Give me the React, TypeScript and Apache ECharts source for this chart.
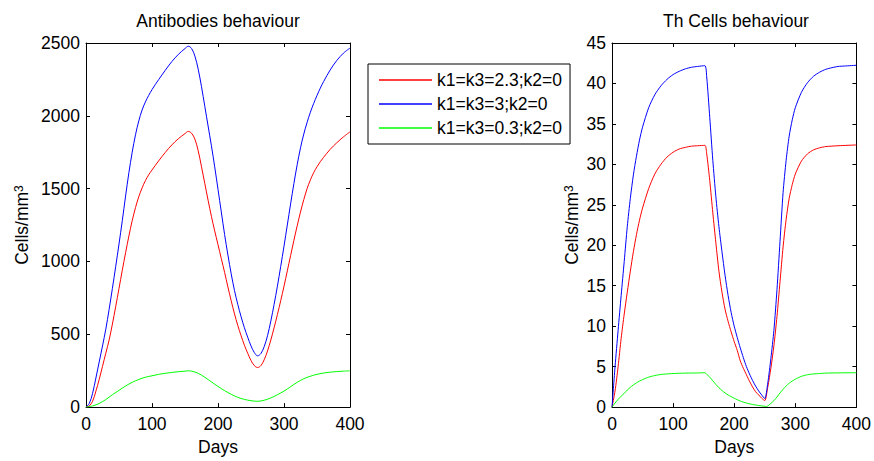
import React, { useEffect, useRef } from "react";
import * as echarts from "echarts";

const FONT = "'Liberation Sans', Arial, Helvetica, sans-serif";
const FS = 17.5;

const seriesNames = ["k1=k3=2.3;k2=0", "k1=k3=3;k2=0", "k1=k3=0.3;k2=0"];
const seriesColors = ["#ff0000", "#0000ff", "#00ff00"];
const titles = ["Antibodies behaviour", "Th Cells behaviour"];
const xTitle = "Days";

// Antibodies (left panel): [day, cells/mm3]
const abRed: [number, number][] = [
  [0, 0], [5, 8], [10, 40], [15, 110], [20, 190], [25, 280], [30, 370], [35, 460], [40, 570], [45, 690],
  [50, 815], [55, 940], [60, 1060], [65, 1175], [70, 1280], [75, 1370], [80, 1445], [85, 1505], [90, 1555],
  [95, 1595], [100, 1628], [110, 1690], [120, 1748], [130, 1800], [140, 1843], [150, 1878], [155, 1893],
  [160, 1880], [165, 1840], [170, 1760], [175, 1650], [180, 1535], [185, 1420], [190, 1310], [195, 1210],
  [200, 1115], [205, 1020], [210, 925], [215, 825], [220, 730], [225, 640], [230, 560], [235, 490], [240, 425],
  [245, 370], [250, 320], [255, 285], [260, 272], [265, 285], [270, 325], [275, 385], [280, 460], [285, 545],
  [290, 635], [295, 730], [300, 830], [305, 935], [310, 1040], [315, 1145], [320, 1245], [325, 1340],
  [330, 1425], [335, 1500], [340, 1560], [345, 1610], [350, 1650], [355, 1685], [360, 1715], [370, 1770],
  [380, 1815], [390, 1855], [400, 1890],
];
const abBlue: [number, number][] = [
  [0, 0], [5, 25], [10, 95], [15, 200], [20, 310], [25, 420], [30, 535], [35, 670], [40, 815], [45, 965],
  [50, 1120], [55, 1280], [60, 1450], [65, 1610], [70, 1750], [75, 1870], [80, 1965], [85, 2040], [90, 2095],
  [95, 2140], [100, 2180], [105, 2215], [110, 2248], [120, 2312], [130, 2372], [140, 2422], [150, 2462],
  [155, 2478], [160, 2462], [165, 2410], [170, 2320], [175, 2200], [180, 2065], [185, 1930], [190, 1795],
  [195, 1650], [200, 1495], [205, 1340], [210, 1185], [215, 1045], [220, 915], [225, 800], [230, 705],
  [235, 620], [240, 545], [245, 480], [250, 420], [255, 375], [260, 352], [265, 368], [270, 415], [275, 490],
  [280, 590], [285, 705], [290, 830], [295, 965], [300, 1105], [305, 1250], [310, 1395], [315, 1535],
  [320, 1665], [325, 1780], [330, 1875], [335, 1955], [340, 2025], [345, 2085], [350, 2140], [355, 2190],
  [360, 2235], [370, 2315], [380, 2380], [390, 2430], [400, 2465],
];
const abGreen: [number, number][] = [
  [0, 0], [10, 8], [20, 25], [30, 52], [40, 85], [50, 115], [60, 145], [70, 170], [80, 190], [90, 205],
  [100, 215], [110, 225], [120, 232], [130, 238], [140, 243], [150, 247], [155, 249], [160, 247], [170, 232],
  [180, 205], [190, 173], [200, 142], [210, 113], [220, 88], [230, 67], [240, 53], [250, 44], [260, 40],
  [270, 47], [280, 63], [290, 85], [300, 110], [310, 140], [320, 170], [330, 195], [340, 212], [350, 225],
  [360, 234], [370, 240], [380, 244], [390, 247], [400, 249],
];

// Th cells (right panel): [day, cells/mm3]
const thRed: [number, number][] = [
  [0, 0], [5, 2], [10, 5], [15, 8.5], [20, 11.5], [25, 14.2], [30, 16.8], [35, 19.2], [40, 21.3], [45, 23.1],
  [50, 24.6], [60, 27], [70, 28.8], [80, 30], [90, 30.9], [100, 31.5], [110, 31.9], [120, 32.1], [130, 32.25],
  [140, 32.3], [152, 32.35], [155, 31.3], [160, 28], [165, 24], [170, 20.3], [175, 16.8], [180, 14.2],
  [185, 12.1], [190, 10.6], [195, 9.3], [200, 8.1], [205, 7], [210, 5.7], [215, 4.8], [220, 4], [225, 3.2],
  [230, 2.5], [235, 1.9], [240, 1.5], [245, 1.1], [250, 0.8], [255, 2.5], [260, 4.8], [265, 7.6], [270, 11.2],
  [275, 15.5], [280, 19.8], [285, 23.2], [290, 25.8], [295, 27.5], [300, 28.8], [310, 30.4], [320, 31.3],
  [330, 31.8], [340, 32.05], [350, 32.2], [370, 32.3], [400, 32.4],
];
const thBlue: [number, number][] = [
  [0, 0], [2, 2], [5, 5], [10, 9.5], [15, 13.8], [20, 18], [25, 22.3], [30, 25.8], [35, 28.7], [40, 31],
  [45, 33], [50, 34.6], [60, 37], [70, 38.6], [80, 39.7], [90, 40.5], [100, 41.1], [110, 41.5], [120, 41.8],
  [130, 42], [140, 42.1], [152, 42.2], [155, 40.8], [160, 35.8], [165, 30.5], [170, 26], [175, 22.3],
  [180, 19.2], [185, 16.3], [190, 13.8], [195, 11.7], [200, 10], [205, 8.6], [210, 7.3], [215, 6.1], [220, 5],
  [225, 4.1], [230, 3.3], [235, 2.6], [240, 2], [245, 1.5], [250, 1.05], [255, 3], [260, 6], [265, 9.5],
  [270, 14.5], [275, 20.5], [280, 26.5], [285, 30.5], [290, 33.5], [295, 35.5], [300, 37], [310, 38.9],
  [320, 40.1], [330, 40.9], [340, 41.4], [350, 41.75], [360, 41.95], [370, 42.1], [380, 42.15], [400, 42.25],
];
const thGreen: [number, number][] = [
  [0, 0], [5, 0.5], [10, 0.95], [15, 1.35], [20, 1.7], [25, 2.1], [30, 2.45], [40, 3.0], [50, 3.4], [60, 3.7],
  [70, 3.9], [80, 4.03], [90, 4.1], [100, 4.15], [120, 4.2], [140, 4.22], [152, 4.25], [155, 4.05], [160, 3.7],
  [165, 3.25], [170, 2.8], [175, 2.4], [180, 2.05], [185, 1.75], [190, 1.5], [200, 1.1], [210, 0.75],
  [220, 0.5], [230, 0.33], [240, 0.2], [250, 0.1], [253, 0.08], [260, 0.45], [265, 0.8], [270, 1.25],
  [275, 1.75], [280, 2.2], [285, 2.6], [290, 2.95], [300, 3.45], [310, 3.8], [320, 4.0], [330, 4.1],
  [340, 4.15], [350, 4.2], [370, 4.23], [400, 4.25],
];

const xMin = 0, xMax = 400, xStep = 100;
const abMax = 2500, abStep = 500;
const thMax = 45, thStep = 5;

export default function App() {
  const ref = useRef<HTMLDivElement>(null);
  useEffect(() => {
    if (!ref.current) return;
    const chart = echarts.init(ref.current, null, { renderer: "svg" });
    const black = "#000";
    const axisLine = { show: true, onZero: false, lineStyle: { color: black, width: 1 } };
    const tick = { show: true, inside: true, length: 4, lineStyle: { color: black, width: 1 } };
    const lbl = { color: black, fontSize: FS, fontFamily: FONT };
    const plain = (v: number) => String(v);
    const xBottom = (grid: number) => ({
      type: "value", gridIndex: grid, min: xMin, max: xMax, interval: xStep, position: "bottom",
      axisLine, axisTick: tick, splitLine: { show: false },
      axisLabel: { ...lbl, margin: 8, formatter: plain },
      name: xTitle, nameLocation: "middle", nameGap: 28,
      nameTextStyle: { ...lbl },
    });
    const xTop = (grid: number) => ({
      type: "value", gridIndex: grid, min: xMin, max: xMax, interval: xStep, position: "top",
      axisLine, axisTick: tick, splitLine: { show: false }, axisLabel: { show: false },
    });
    const yName = "{a|Cells/mm}{b|3}";
    const yRich = {
      a: { fontSize: FS, fontFamily: FONT, color: black },
      b: { fontSize: 12, fontFamily: FONT, color: black, verticalAlign: "top", lineHeight: 12 },
    };
    const yLeft = (grid: number, max: number, step: number, gap: number) => ({
      type: "value", gridIndex: grid, min: 0, max, interval: step, position: "left",
      axisLine, axisTick: tick, splitLine: { show: false },
      axisLabel: { ...lbl, margin: 6, formatter: plain },
      name: yName, nameLocation: "middle", nameGap: gap,
      nameTextStyle: { rich: yRich },
    });
    const yRight = (grid: number, max: number, step: number) => ({
      type: "value", gridIndex: grid, min: 0, max, interval: step, position: "right",
      axisLine, axisTick: tick, splitLine: { show: false }, axisLabel: { show: false },
    });
    const mk = (name: string, color: string, data: [number, number][], xi: number, yi: number, smooth: number) => ({
      type: "line", name, data, xAxisIndex: xi, yAxisIndex: yi,
      symbol: "none", smooth, lineStyle: { color, width: 1 }, itemStyle: { color },
      emphasis: { disabled: true },
    });
    chart.setOption({
      animation: false,
      backgroundColor: "#fff",
      textStyle: { fontFamily: FONT },
      title: [
        { text: titles[0], left: 218, top: 12, textAlign: "center", padding: 0,
          textStyle: { fontSize: FS, fontWeight: "normal", color: black, fontFamily: FONT } },
        { text: titles[1], left: 736, top: 12, textAlign: "center", padding: 0,
          textStyle: { fontSize: FS, fontWeight: "normal", color: black, fontFamily: FONT } },
      ],
      legend: {
        data: seriesNames,
        left: 368, top: 64, orient: "vertical",
        padding: [7, 8, 7, 11],
        icon: "rect",
        itemWidth: 53, itemHeight: 1.3, itemGap: 6,
        borderColor: black, borderWidth: 1, backgroundColor: "#fff",
        textStyle: { fontSize: FS, fontFamily: FONT, color: black, lineHeight: 18 },
        selectedMode: false,
      },
      grid: [
        { left: 86, top: 43, width: 264, height: 373, containLabel: false },
        { left: 612, top: 43, width: 248, height: 373, containLabel: false },
      ],
      xAxis: [xBottom(0), xTop(0), xBottom(1), xTop(1)],
      yAxis: [yLeft(0, abMax, abStep, 55), yRight(0, abMax, abStep), yLeft(1, thMax, thStep, 31), yRight(1, thMax, thStep)],
      series: [
        mk(seriesNames[0], seriesColors[0], abRed, 0, 0, 0.35),
        mk(seriesNames[1], seriesColors[1], abBlue, 0, 0, 0.35),
        mk(seriesNames[2], seriesColors[2], abGreen, 0, 0, 0.35),
        mk(seriesNames[0], seriesColors[0], thRed, 2, 2, 0.25),
        mk(seriesNames[1], seriesColors[1], thBlue, 2, 2, 0.25),
        mk(seriesNames[2], seriesColors[2], thGreen, 2, 2, 0.25),
      ],
    });
    return () => chart.dispose();
  }, []);
  return (
    <div
      ref={ref}
      style={{ position: "fixed", left: 0, top: 0, width: 874, height: 461, background: "#fff" }}
    />
  );
}
